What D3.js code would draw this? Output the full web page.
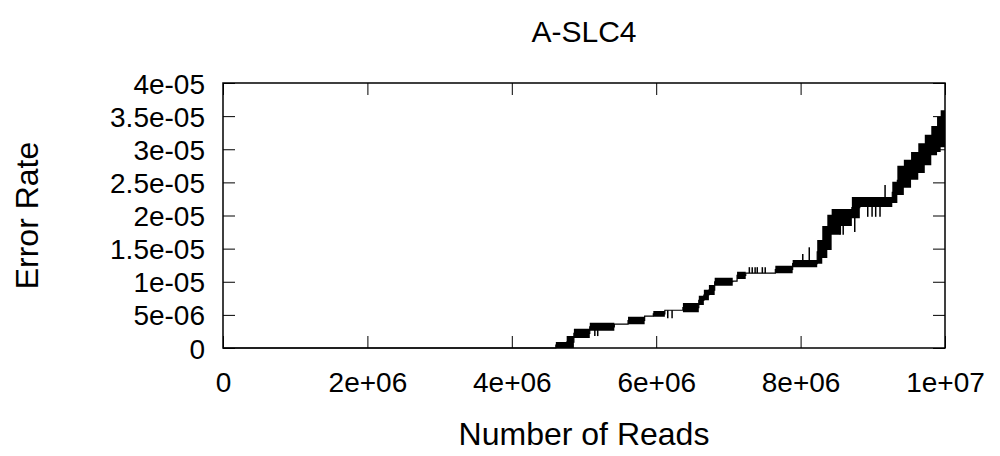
<!DOCTYPE html>
<html>
<head>
<meta charset="utf-8">
<script src="https://cdn.jsdelivr.net/npm/d3@7/dist/d3.min.js"></script>
<style>
  html, body { margin: 0; padding: 0; background: #fff; }
  svg text { font-family: "Liberation Sans", Arial, sans-serif; fill: #000; }
</style>
</head>
<body>
<svg id="chart" width="1000" height="456"></svg>
<script>
// ---- data (reads in millions, error rate in units of 1e-5) ----
const title = "A-SLC4";
const xLabel = "Number of Reads";
const yLabel = "Error Rate";
const xTicks = [0, 2e6, 4e6, 6e6, 8e6, 1e7];
const xTickLabels = ["0", "2e+06", "4e+06", "6e+06", "8e+06", "1e+07"];
const yTicks = [0, 5e-6, 1e-5, 1.5e-5, 2e-5, 2.5e-5, 3e-5, 3.5e-5, 4e-5];
const yTickLabels = ["0", "5e-06", "1e-05", "1.5e-05", "2e-05", "2.5e-05", "3e-05", "3.5e-05", "4e-05"];

// step segments: start reads (M), lowest and highest error (1e-5) within segment
const reads = [0, 4.61, 4.76, 4.86, 5.08, 5.42, 5.61, 5.84, 5.96, 6.12, 6.37, 6.59, 6.66, 6.73, 6.81, 7.06, 7.12, 7.24, 7.65, 7.89, 8.23, 8.30, 8.37, 8.43, 8.55, 8.71, 8.82, 9.27, 9.34, 9.43, 9.53, 9.63, 9.72, 9.81, 9.89, 9.94, 10.0];
const errLo = [0, 0, 0, 0.15, 0.26, 0.36, 0.36, 0.48, 0.47, 0.57, 0.54, 0.65, 0.72, 0.80, 0.94, 1.01, 1.04, 1.13, 1.13, 1.22, 1.27, 1.36, 1.48, 1.71, 1.84, 1.96, 2.13, 2.19, 2.31, 2.42, 2.54, 2.64, 2.76, 2.91, 2.96, 3.03, 3.03];
const errHi = [0, 0.09, 0.18, 0.29, 0.38, 0.36, 0.47, 0.48, 0.56, 0.57, 0.68, 0.79, 0.88, 0.95, 1.06, 1.01, 1.15, 1.13, 1.24, 1.33, 1.63, 1.84, 2.01, 2.10, 2.10, 2.28, 2.28, 2.51, 2.75, 2.84, 2.96, 3.09, 3.22, 3.35, 3.49, 3.59, 3.59];

// isolated spikes (reads M, low, high in 1e-5)
const spikeReads = [5.15, 5.19, 6.16, 6.22, 7.29, 7.33, 7.37, 7.40, 7.47, 7.51, 8.03, 8.12, 8.55, 8.59, 8.75, 8.93, 8.99, 9.04, 9.10, 9.17];
const spikeLo    = [0.18, 0.18, 0.45, 0.45, 1.13, 1.13, 1.13, 1.13, 1.13, 1.13, 1.30, 1.30, 1.71, 1.71, 1.75, 1.98, 1.98, 1.98, 1.98, 2.28];
const spikeHi    = [0.27, 0.27, 0.57, 0.57, 1.22, 1.22, 1.22, 1.22, 1.22, 1.22, 1.42, 1.52, 1.98, 1.98, 1.98, 2.13, 2.13, 2.13, 2.13, 2.46];

// ---- layout ----
const svg = d3.select("#chart");
const mLeft = 223, mRight = 945, mTop = 83, mBottom = 348;
const x = d3.scaleLinear().domain([0, 1e7]).range([mLeft, mRight]);
const y = d3.scaleLinear().domain([0, 4e-5]).range([mBottom, mTop]);
const fsTick = 28, fsLabel = 32;

const pts = reads.map((r, i) => ({ x: r * 1e6, lo: errLo[i] * 1e-5, hi: errHi[i] * 1e-5 }));
const spikes = spikeReads.map((r, i) => ({ x: r * 1e6, lo: spikeLo[i] * 1e-5, hi: spikeHi[i] * 1e-5 }));

// data band
svg.append("path")
  .datum(pts)
  .attr("fill", "#000")
  .attr("d", d3.area().curve(d3.curveStepAfter).x(d => x(d.x)).y0(d => y(d.lo)).y1(d => y(d.hi)));
svg.append("path")
  .datum(pts)
  .attr("fill", "none").attr("stroke", "#000").attr("stroke-width", 1.2)
  .attr("d", d3.line().curve(d3.curveStepAfter).x(d => x(d.x)).y(d => y((d.lo + d.hi) / 2)));
svg.append("g").selectAll("line").data(spikes).join("line")
  .attr("x1", d => x(d.x)).attr("x2", d => x(d.x))
  .attr("y1", d => y(d.lo)).attr("y2", d => y(d.hi))
  .attr("stroke", "#000").attr("stroke-width", 1.5);

// axes: gnuplot-style inward mirrored ticks
const tickLen = 12;
const axB = svg.append("g").attr("transform", `translate(0,${mBottom})`)
  .call(d3.axisBottom(x).tickValues(xTicks).tickSize(-tickLen).tickPadding(24).tickFormat((d, i) => xTickLabels[i]));
const axT = svg.append("g").attr("transform", `translate(0,${mTop})`)
  .call(d3.axisTop(x).tickValues(xTicks).tickSize(-tickLen).tickFormat(""));
const axL = svg.append("g").attr("transform", `translate(${mLeft},0)`)
  .call(d3.axisLeft(y).tickValues(yTicks).tickSize(-tickLen).tickPadding(18).tickFormat((d, i) => yTickLabels[i]));
const axR = svg.append("g").attr("transform", `translate(${mRight},0)`)
  .call(d3.axisRight(y).tickValues(yTicks).tickSize(-tickLen).tickFormat(""));
[axB, axT, axL, axR].forEach(g => {
  g.select(".domain").remove();
  g.selectAll(".tick line").attr("stroke", "#000").attr("stroke-width", 1);
  g.selectAll(".tick text").attr("font-size", fsTick).attr("font-family", "Liberation Sans, Arial, sans-serif").attr("fill", "#000");
});
axL.selectAll(".tick text").attr("dy", "0.36em");
axB.selectAll(".tick text").attr("dy", "0.72em");

// border
svg.append("rect")
  .attr("x", mLeft).attr("y", mTop).attr("width", mRight - mLeft).attr("height", mBottom - mTop)
  .attr("fill", "none").attr("stroke", "#000").attr("stroke-width", 1.5);

// labels
svg.append("text").attr("x", (mLeft + mRight) / 2).attr("y", 42).attr("text-anchor", "middle")
  .attr("font-size", fsLabel - 2).text(title);
svg.append("text").attr("x", (mLeft + mRight) / 2).attr("y", 445).attr("text-anchor", "middle")
  .attr("font-size", fsLabel).text(xLabel);
svg.append("text").attr("transform", `translate(38,${(mTop + mBottom) / 2}) rotate(-90)`).attr("text-anchor", "middle")
  .attr("font-size", fsLabel).text(yLabel);
</script>
</body>
</html>
